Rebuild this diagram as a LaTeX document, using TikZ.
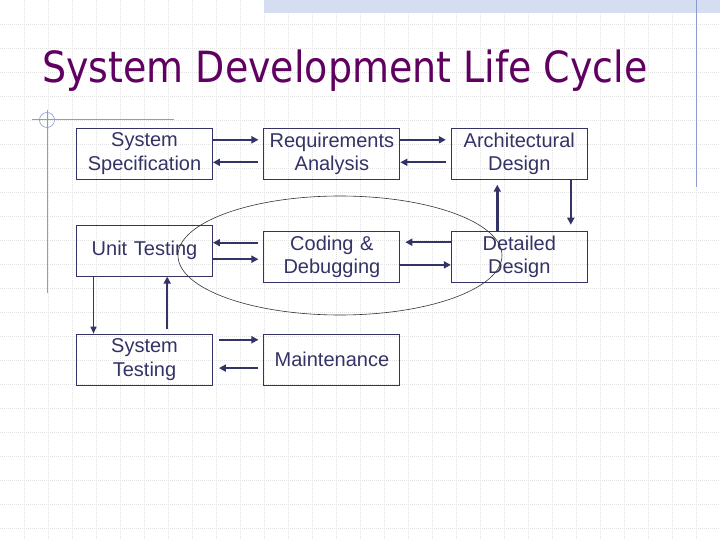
\documentclass[tikz,border=0pt]{standalone}
\usepackage{fontspec}
\setmainfont{Liberation Sans}
\newfontfamily\titlefont[FakeStretch=0.883]{DejaVu Sans}
\usetikzlibrary{arrows.meta,positioning}
\definecolor{sdnavy}{RGB}{51,51,102}
\definecolor{sdpurple}{RGB}{96,0,96}
\definecolor{sdrule}{RGB}{140,155,205}
\definecolor{sdband}{RGB}{212,222,240}
\tikzstyle{phase}=[rectangle,draw=sdnavy,line width=0.9pt,minimum width=136pt,
  minimum height=51pt,inner sep=0pt,text width=134pt,align=center,text=sdnavy,
  font=\fontsize{20}{23.5}\selectfont]
\tikzstyle{arrow}=[-{Triangle[length=7pt,width=7pt]},line width=2.4pt,color=sdnavy]
\tikzstyle{thinarrow}=[-{Triangle[length=7pt,width=6pt]},line width=1.1pt,color=sdnavy]
\tikzstyle{gridline}=[gray!22,line width=0.5pt,dash pattern=on 0.8pt off 1.2pt]
\tikzstyle{rule}=[sdrule,line width=1pt]

\begin{document}
\begin{tikzpicture}[x=1pt,y=-1pt]
  \useasboundingbox (0,0) rectangle (720,540);

  % Fond
  \fill[white] (0,0) rectangle (720,540);
  \foreach \x in {24,48,...,696} \draw[gridline] (\x,0) -- (\x,540);
  \foreach \y in {24,48,...,528} \draw[gridline] (0,\y) -- (720,\y);
  \fill[sdband] (264,0) rectangle (720,12.7);
  \draw[rule] (696.5,0) -- (696.5,187);
  \draw[rule] (32,120) -- (174,120);
  \draw[rule] (47,110) -- (47,293);
  \draw[rule,line width=0.6pt] (47,120) circle (7.5);

  % Titre
  \node[anchor=base west,inner sep=0pt,text=sdpurple,
    font=\titlefont\fontsize{43}{50}\selectfont] (title) at (42,83)
    {System Development Life Cycle};

  % Etapes
  \node[phase] (spec) at (144.5,153.8) {System\\Specification};
  \node[phase, right=50.5pt of spec] (req)  {Requirements\\Analysis};
  \node[phase, right=50.5pt of req]  (arch) {Architectural\\Design};
  \node[phase, below=45pt of spec]   (unit) {Unit Testing};
  \node[phase, below=51pt of req]    (code) {Coding \&\\Debugging};
  \node[phase, below=51pt of arch]   (dd)   {Detailed\\Design};
  \node[phase, below=57pt of unit]   (sys)  {System\\Testing};
  \node[phase, right=50.5pt of sys]  (maint) {Maintenance};

  % Fleches
  \draw[arrow,shorten >=5pt] ([yshift=14pt]spec.east) -- ([yshift=14pt]req.west);
  \draw[arrow,shorten <=5pt] ([yshift=-8.5pt]req.west) -- ([yshift=-8.5pt]spec.east);
  \draw[arrow,shorten >=5pt] ([yshift=14pt]req.east) -- ([yshift=14pt]arch.west);
  \draw[arrow,shorten <=5pt] ([yshift=-8.5pt]arch.west) -- ([yshift=-8.5pt]req.east);
  \draw[arrow,shorten >=6pt] ([xshift=51.5pt]arch.south) -- ([xshift=51.5pt]dd.north);
  \draw[arrow,shorten >=5pt] ([xshift=-22pt]dd.north) -- ([xshift=-22pt]arch.south);
  \draw[arrow,shorten >=5pt] ([yshift=14.5pt]dd.west) -- ([yshift=14.5pt]code.east);
  \draw[arrow] ([yshift=-8.2pt]code.east) -- ([yshift=-8.2pt]dd.west);
  \draw[arrow,shorten <=5pt] ([yshift=14pt]code.west) -- ([yshift=14pt]code.west -| unit.east);
  \draw[arrow,shorten >=5pt] ([yshift=-8.5pt]unit.east) -- ([yshift=-8.5pt]unit.east -| code.west);
  \draw[thinarrow] ([xshift=-51pt]unit.south) -- ([xshift=-51pt]sys.north);
  \draw[arrow,shorten <=5pt] ([xshift=22.7pt]sys.north) -- ([xshift=22.7pt]unit.south);
  \draw[arrow,line width=1.7pt,shorten <=6pt,shorten >=5pt] ([yshift=19.8pt]sys.east) -- ([yshift=19.8pt]maint.west);
  \draw[arrow,shorten <=5pt,shorten >=6pt] ([yshift=-8.5pt]maint.west) -- ([yshift=-8.5pt]sys.east);

  % Ellipse
  \draw[black!80,line width=0.6pt] (340,255.5) ellipse (162 and 59.5);

\end{tikzpicture}
\end{document}
